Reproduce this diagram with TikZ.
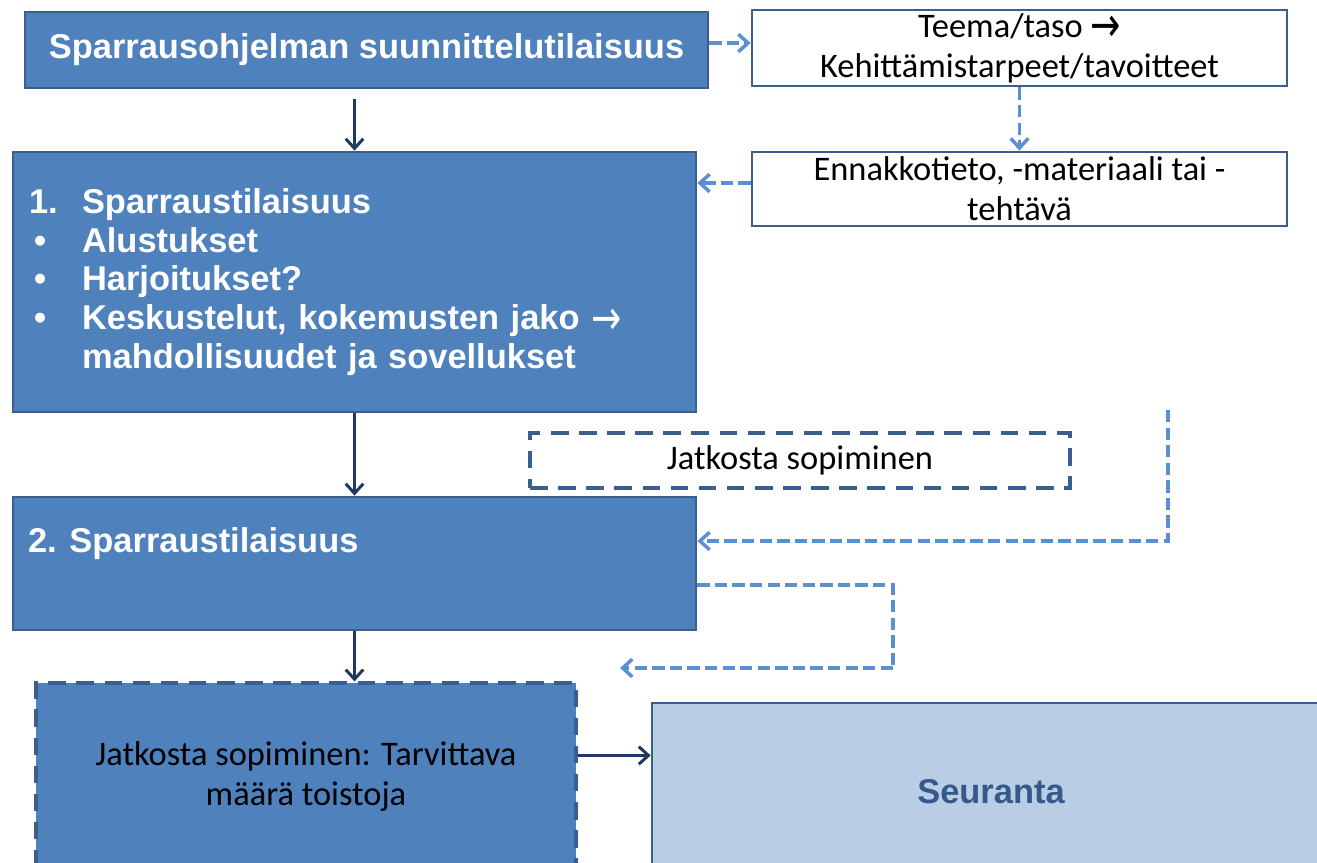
\documentclass[tikz,border=0pt]{standalone}
\usepackage{fontspec}
\usepackage{graphicx}
\setmainfont{Carlito}
\newfontfamily\headfont{Liberation Sans}
\newfontfamily\symfont{DejaVu Sans}
\usetikzlibrary{arrows.meta}

\definecolor{boxfill}{HTML}{4F81BD}
\definecolor{boxedge}{HTML}{3A5F8E}
\definecolor{navy}{HTML}{1F3A60}
\definecolor{linkblue}{HTML}{5B8FD0}
\definecolor{palefill}{HTML}{B9CDE5}
\definecolor{paletext}{HTML}{35598A}

\newcommand{\boldtext}{\headfont\bfseries\fontsize{19.6}{22.1}\selectfont}
\newcommand{\plaintext}{\fontsize{19.6}{22.6}\selectfont}
\newcommand{\itemgap}[1]{\makebox[1.06cm][l]{#1}}
\newcommand{\bigarrow}{{\mdseries\symfont\raisebox{-0.13em}{\scalebox{1.05}[1.4]{→}}}}

\begin{document}
\begin{tikzpicture}[x=0.02cm, y=-0.02cm,
  bluebox/.style={draw=boxedge, line width=1.6pt, fill=boxfill, inner sep=0pt},
  whitebox/.style={draw=boxedge, line width=1.6pt, fill=white, inner sep=0pt,
                   font=\plaintext, align=center},
  dashbox/.style={draw=boxedge, line width=1.8pt, dash pattern=on 10pt off 6pt, inner sep=0pt},
  whitehead/.style={font=\boldtext, text=white},
  flow/.style={draw=navy, line width=1.7pt, -{Straight Barb[length=5.5pt,width=10pt]}},
  link/.style={draw=linkblue, line width=2pt, dash pattern=on 7pt off 3pt,
               -{Straight Barb[length=5.5pt,width=10pt]}},
  linkline/.style={draw=linkblue, line width=2pt, dash pattern=on 7pt off 3pt}
]
\useasboundingbox (0,0) rectangle (1317,862);

% planning session and its side notes
\node[bluebox, whitehead, minimum width=13.66cm, minimum height=1.52cm] (a) at (366.5,50)
  {Sparrausohjelman suunnittelutilaisuus};
\node[whitebox, minimum width=10.7cm, minimum height=1.52cm] (b) at (1019.5,48)
  {Teema/taso \bigarrow\\Kehittämistarpeet/tavoitteet};
\node[whitebox, minimum width=10.7cm, minimum height=1.48cm] (c) at (1019.5,189)
  {Ennakkotieto, -materiaali tai -\\tehtävä};

% first session
\node[bluebox, whitehead, minimum width=13.66cm, minimum height=5.2cm,
      text width=13.02cm, align=left] (d) at (354.5,282)
  {\itemgap{1.}Sparraustilaisuus\\
   \itemgap{\hspace{0.1cm}•}Alustukset\\
   \itemgap{\hspace{0.1cm}•}Harjoitukset?\\
   \itemgap{\hspace{0.1cm}•}Keskustelut, kokemusten jako \bigarrow\\
   \itemgap{}mahdollisuudet ja sovellukset};

% agreement on continuation
\node[dashbox, fill=white, font=\plaintext, minimum width=10.8cm, minimum height=1.1cm] (e) at (800,460.5)
  {Jatkosta sopiminen};

% second session
\node[bluebox, minimum width=13.66cm, minimum height=2.66cm] (f) at (354.5,563.5) {};
\node[whitehead, anchor=west, inner sep=0pt] (ftext) at ([xshift=0.32cm, yshift=-0.96cm]f.north west)
  {2. Sparraustilaisuus};

% repetitions and follow-up
\node[dashbox, fill=boxfill, font=\plaintext, align=center, minimum width=10.8cm, minimum height=3.74cm] (g)
  at (306,776.5) {Jatkosta sopiminen: Tarvittava\\määrä toistoja};
\node[bluebox, fill=palefill, minimum width=13.56cm, minimum height=3.54cm,
      font=\headfont\bfseries\fontsize{19.6}{22}\selectfont, text=paletext] (h) at (991,791.5) {Seuranta};

% main flow
\draw[flow] ([yshift=-0.2cm]a.south -| d.north) -- (d.north);
\draw[flow] (d.south) -- (f.north);
\draw[flow] (f.south) -- (f.south |- g.north);
\draw[flow] ([yshift=-1.48cm]g.north east) -- ([yshift=-1.48cm]g.north east -| h.west);

% dashed side links
\draw[link] ([yshift=0.14cm]a.east) -- ([yshift=0.14cm]a.east -| b.west);
\draw[link] (b.south) -- (c.north);
\draw[link] ([yshift=0.12cm]c.west) -- ([yshift=0.12cm]c.west -| d.east);

\coordinate (loopin) at (1168,410);
\draw[link] (loopin) |- ([yshift=0.45cm]f.east);

\coordinate (loopcorner) at (893,668);
\coordinate (loopout) at (620,668);
\draw[linkline] ([yshift=-0.43cm]f.east) -| (loopcorner);
\draw[link] (loopcorner) -- (loopout);
\end{tikzpicture}
\end{document}
